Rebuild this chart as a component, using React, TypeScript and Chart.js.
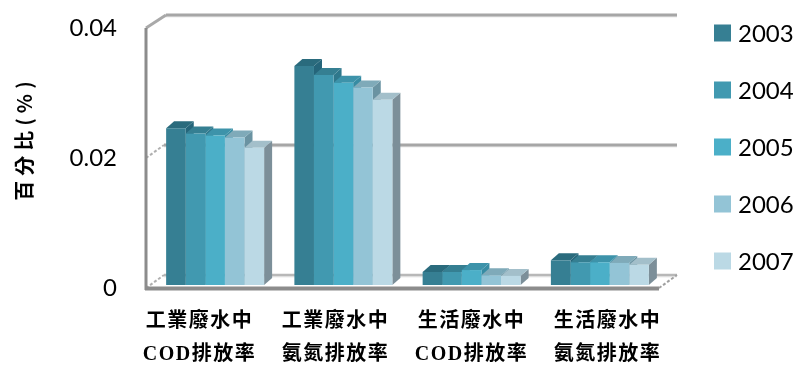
import React, { useEffect, useRef } from 'react';
import { Chart, registerables } from 'chart.js';

Chart.register(...registerables);

// Categories (two-line labels) and yearly series
const categories: string[][] = [
  ['工業廢水中', 'COD排放率'],
  ['工業廢水中', '氨氮排放率'],
  ['生活廢水中', 'COD排放率'],
  ['生活廢水中', '氨氮排放率'],
];
const years = ['2003', '2004', '2005', '2006', '2007'];
const v2003 = [0.0241, 0.0337, 0.0020, 0.0038];
const v2004 = [0.0233, 0.0323, 0.0020, 0.0035];
const v2005 = [0.0230, 0.0311, 0.0023, 0.0035];
const v2006 = [0.0227, 0.0304, 0.0015, 0.0034];
const v2007 = [0.0211, 0.0285, 0.0014, 0.0031];
const seriesValues = [v2003, v2004, v2005, v2006, v2007];
const yTickMax = 0.04;
const yTickStep = 0.02;
const yTitle = '百分比(%)';

// Face colours for the extruded bars
const frontColors = ['#367f93', '#4199b0', '#4bafc8', '#93c4d6', '#bbd9e5'];
const topColors = ['#2a6b7d', '#357f92', '#3d93aa', '#7faab9', '#a3bfca'];
const sideColors = ['#25657a', '#2f788c', '#378ca3', '#6a93a2', '#7c8f99'];

// Depth offsets of the box (front edge / back wall) and bar extrusion
const FRONT = { dx: -5, dy: 3 };
const BACK = { dx: 13, dy: -10 };
const BAR = { dx: 8, dy: -7 };
// Category labels sit on the projected floor edge, slightly wider than the bar plane
const LABEL_SPREAD = 1.06;

const LABEL_FONT = 'bold 20px "Liberation Serif", "Noto Sans CJK TC"';
const TICK_FONT_FAMILY = 'Lato';

function poly(ctx: CanvasRenderingContext2D, pts: number[][], fill: string) {
  ctx.beginPath();
  ctx.moveTo(pts[0][0], pts[0][1]);
  for (let i = 1; i < pts.length; i++) ctx.lineTo(pts[i][0], pts[i][1]);
  ctx.closePath();
  ctx.fillStyle = fill;
  ctx.fill();
}

function line(ctx: CanvasRenderingContext2D, x1: number, y1: number, x2: number, y2: number, color: string, width: number, dash: number[] = []) {
  ctx.beginPath();
  ctx.setLineDash(dash);
  ctx.strokeStyle = color;
  ctx.lineWidth = width;
  ctx.moveTo(x1, y1);
  ctx.lineTo(x2, y2);
  ctx.stroke();
  ctx.setLineDash([]);
}

const box3d = {
  id: 'box3d',
  beforeDatasetsDraw(chart: any) {
    const { ctx, chartArea: a, scales } = chart;
    const y = scales.y;
    ctx.save();
    ctx.lineCap = 'butt';
    // back wall grid lines
    for (let t = 0; t <= yTickMax + 1e-9; t += yTickStep) {
      const yy = y.getPixelForValue(t) + BACK.dy;
      const isTop = Math.abs(t - yTickMax) < 1e-9;
      line(ctx, a.left + BACK.dx, yy + 1.5, a.right + BACK.dx, yy + 1.5, 'rgba(0,0,0,0.08)', 2);
      line(ctx, a.left + BACK.dx + (isTop ? 2 : 0), yy, a.right + BACK.dx, yy, t === 0 ? '#b8b8b8' : '#a6a6a6', t === 0 ? 2.5 : 3);
      // left wall edge from front to back
      const fy = y.getPixelForValue(t) + FRONT.dy;
      if (isTop) {
        line(ctx, a.left + FRONT.dx, fy, a.left + BACK.dx + 2, yy, '#a9a9a9', 3);
      } else {
        line(ctx, a.left + FRONT.dx, fy, a.left + BACK.dx, yy, '#b0b0b0', 2, [3, 2]);
      }
    }
    // left front edge
    line(ctx, a.left + FRONT.dx, y.getPixelForValue(yTickMax) + FRONT.dy, a.left + FRONT.dx, a.bottom + FRONT.dy + 2, '#8c8c8c', 3);
    // floor: front edge and right diagonal
    line(ctx, a.left + FRONT.dx - 1, a.bottom + FRONT.dy + 0.5, a.right + FRONT.dx, a.bottom + FRONT.dy + 0.5, '#8c8c8c', 4);
    line(ctx, a.right + FRONT.dx, a.bottom + FRONT.dy, a.right + BACK.dx, a.bottom + BACK.dy, '#a0a0a0', 2, [3, 2]);

    // bar side and top faces, left to right so neighbours overlap correctly
    const n = chart.data.labels.length;
    for (let j = 0; j < n; j++) {
      for (let i = 0; i < chart.data.datasets.length; i++) {
        const el = chart.getDatasetMeta(i).data[j];
        if (!el) continue;
        const p = el.getProps(['x', 'y', 'base', 'width'], true);
        const l = p.x - p.width / 2;
        const r = p.x + p.width / 2;
        poly(ctx, [[r, p.y], [r + BAR.dx, p.y + BAR.dy], [r + BAR.dx, p.base + BAR.dy], [r, p.base]], sideColors[i]);
        poly(ctx, [[l, p.y], [r, p.y], [r + BAR.dx, p.y + BAR.dy], [l + BAR.dx, p.y + BAR.dy]], topColors[i]);
      }
    }
    ctx.restore();
  },
  afterDraw(chart: any) {
    const { ctx, chartArea: a, scales } = chart;
    const x = scales.x;
    ctx.save();
    // category labels (two lines)
    ctx.fillStyle = '#000';
    ctx.font = LABEL_FONT;
    (ctx as any).letterSpacing = '1.5px';
    ctx.textAlign = 'center';
    ctx.textBaseline = 'middle';
    const mid = (a.left + a.right) / 2;
    categories.forEach((lines, j) => {
      const cx = mid + (x.getPixelForValue(j) - mid) * LABEL_SPREAD - 4;
      lines.forEach((txt, k) => {
        ctx.fillText(txt, cx, a.bottom + 37 + k * 33);
      });
    });
    // y axis title
    ctx.save();
    ctx.translate(24, 141);
    ctx.rotate(-Math.PI / 2);
    ctx.font = 'bold 20px "Noto Sans CJK TC"';
    (ctx as any).letterSpacing = '5px';
    ctx.fillText(yTitle, 2.5, 0);
    ctx.restore();
    // legend
    (ctx as any).letterSpacing = '0px';
    ctx.font = `24px ${TICK_FONT_FAMILY}`;
    ctx.textAlign = 'left';
    years.forEach((yr, i) => {
      const cy = 33 + i * 57;
      ctx.fillStyle = frontColors[i];
      ctx.fillRect(714, cy - 8.5, 17, 17);
      ctx.fillStyle = '#000';
      ctx.fillText(yr, 738, cy + 1);
    });
    ctx.restore();
  },
};

export default function App() {
  const ref = useRef<HTMLCanvasElement | null>(null);
  useEffect(() => {
    document.body.style.margin = '0';
    const canvas = ref.current!;
    const chart = new Chart(canvas, {
      type: 'bar',
      data: {
        labels: categories.map((c) => c.join(' ')),
        datasets: years.map((yr, i) => ({
          label: yr,
          data: seriesValues[i],
          backgroundColor: frontColors[i],
          borderWidth: 0,
          categoryPercentage: 0.764,
          barPercentage: 1,
        })),
      },
      options: {
        animation: false,
        responsive: false,
        devicePixelRatio: 1,
        layout: { padding: { top: 25, right: 136, bottom: 82, left: 0 } },
        plugins: { legend: { display: false }, tooltip: { enabled: false } },
        scales: {
          x: { display: false, offset: true },
          y: {
            min: 0,
            max: yTickMax,
            grid: { display: false, drawTicks: false },
            border: { display: false },
            ticks: {
              stepSize: yTickStep,
              padding: 34,
              labelOffset: 3,
              color: '#000',
              font: { family: TICK_FONT_FAMILY, size: 24 },
            },
            afterFit: (s: any) => {
              s.width = 151;
              s.paddingTop = 0;
              s.paddingBottom = 0;
            },
          },
        },
      },
      plugins: [box3d],
    });
    return () => chart.destroy();
  }, []);
  return (
    <div style={{ position: 'fixed', left: 0, top: 0, width: 800, height: 367, background: '#fff' }}>
      <canvas ref={ref} width={800} height={367} style={{ display: 'block' }} />
    </div>
  );
}
